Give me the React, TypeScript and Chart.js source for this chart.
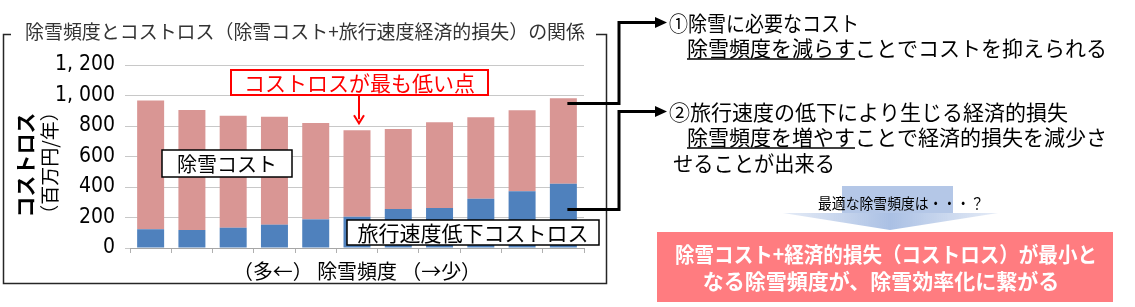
import React, { useEffect, useRef } from 'react';
import { Chart, registerables } from 'chart.js';

Chart.register(...registerables);

// ---- data ----
const categories = ['1', '2', '3', '4', '5', '6', '7', '8', '9', '10', '11'];
const travelLoss = [123, 118, 133, 153, 188, 205, 255, 262, 323, 372, 422];
const snowCost = [845, 787, 735, 708, 632, 567, 525, 562, 534, 531, 560];
const yTickValues = [0, 200, 400, 600, 800, 1000, 1200];

const seriesNames = ['旅行速度低下コストロス', '除雪コスト'];
const chartTitle = '除雪頻度とコストロス（除雪コスト+旅行速度経済的損失）の関係';
const yTitleMain = 'コストロス';
const yTitleUnit = '（百万円/年）';
const xTitle = '（多←） 除雪頻度 （→少）';
const minLabel = 'コストロスが最も低い点';
const point1Head = '①除雪に必要なコスト';
const point1Under = '除雪頻度を減らす';
const point1Rest = 'ことでコストを抑えられる';
const point2Head = '②旅行速度の低下により生じる経済的損失';
const point2Under = '除雪頻度を増やす';
const point2Rest = 'ことで経済的損失を減少さ';
const point2Tail = 'せることが出来る';
const question = '最適な除雪頻度は・・・？';
const conclusion1 = '除雪コスト+経済的損失（コストロス）が最小と';
const conclusion2 = 'なる除雪頻度が、除雪効率化に繋がる';

const JP = '"Noto Sans CJK JP", "Noto Sans", sans-serif';

function labelBox(ctx: CanvasRenderingContext2D, text: string, x: number, y: number, w: number, h: number,
  color: string, lw: number, size: number) {
  ctx.fillStyle = '#FFFFFF';
  ctx.fillRect(x, y, w, h);
  ctx.strokeStyle = color;
  ctx.lineWidth = lw;
  ctx.strokeRect(x, y, w, h);
  ctx.fillStyle = color;
  ctx.font = `${size}px ${JP}`;
  ctx.textAlign = 'center';
  ctx.textBaseline = 'middle';
  ctx.fillText(text, x + w / 2, y + h / 2 + 1, w - 8);
}

function rightArrow(ctx: CanvasRenderingContext2D, pts: number[][], tipX: number) {
  ctx.strokeStyle = '#000';
  ctx.lineWidth = 3;
  ctx.lineJoin = 'miter';
  ctx.beginPath();
  ctx.moveTo(pts[0][0], pts[0][1]);
  for (let i = 1; i < pts.length; i++) ctx.lineTo(pts[i][0], pts[i][1]);
  ctx.stroke();
  const last = pts[pts.length - 1];
  ctx.fillStyle = '#000';
  ctx.beginPath();
  ctx.moveTo(tipX, last[1]);
  ctx.lineTo(tipX - 12, last[1] - 5.5);
  ctx.lineTo(tipX - 12, last[1] + 5.5);
  ctx.closePath();
  ctx.fill();
}

const overlayPlugin = {
  id: 'overlay',
  afterDraw(chart: any) {
    const ctx: CanvasRenderingContext2D = chart.ctx;
    const xs = chart.scales.x;
    const ys = chart.scales.y;
    const totals = travelLoss.map((v, i) => v + snowCost[i]);
    ctx.save();

    // frame around chart
    ctx.strokeStyle = '#262626';
    ctx.lineWidth = 1.5;
    ctx.beginPath();
    ctx.moveTo(11, 34.5);
    ctx.lineTo(3.5, 34.5);
    ctx.lineTo(3.5, 283.5);
    ctx.lineTo(606.5, 283.5);
    ctx.lineTo(606.5, 34.5);
    ctx.lineTo(596, 34.5);
    ctx.stroke();

    // title
    ctx.fillStyle = '#333';
    ctx.font = `19px ${JP}`;
    ctx.textAlign = 'left';
    ctx.textBaseline = 'middle';
    ctx.fillText(chartTitle, 25, 32, 560);

    // y titles
    ctx.fillStyle = '#000';
    ctx.save();
    ctx.translate(25, 165);
    ctx.rotate(-Math.PI / 2);
    ctx.textAlign = 'center';
    ctx.font = `bold 21px ${JP}`;
    ctx.fillText(yTitleMain, 0, 0);
    ctx.restore();
    ctx.save();
    ctx.translate(50, 163);
    ctx.rotate(-Math.PI / 2);
    ctx.textAlign = 'center';
    ctx.font = `19px ${JP}`;
    ctx.fillText(yTitleUnit, 0, 0);
    ctx.restore();

    // x title
    ctx.font = `20px ${JP}`;
    ctx.textAlign = 'center';
    ctx.fillText(xTitle, (xs.left + xs.right) / 2, 271, 248);

    // in-chart labels
    labelBox(ctx, seriesNames[1], 162, 150, 130, 27, '#000', 1.5, 20);
    labelBox(ctx, seriesNames[0], 347, 220, 252, 25, '#000', 1.5, 21);

    // minimum marker
    let minIdx = 0;
    totals.forEach((t, i) => { if (t < totals[minIdx]) minIdx = i; });
    const mx = xs.getPixelForValue(minIdx) + 2;
    labelBox(ctx, minLabel, mx - 128, 70, 257, 25, '#FF0000', 2, 21);
    const tipY = ys.getPixelForValue(totals[minIdx]) - 7;
    ctx.strokeStyle = '#FF0000';
    ctx.lineWidth = 2;
    ctx.beginPath();
    ctx.moveTo(mx, 96);
    ctx.lineTo(mx, tipY - 4);
    ctx.stroke();
    ctx.beginPath();
    ctx.moveTo(mx - 5, tipY - 8);
    ctx.lineTo(mx, tipY);
    ctx.lineTo(mx + 5, tipY - 8);
    ctx.stroke();

    // connectors from last bar
    const last = categories.length - 1;
    const lx = xs.getPixelForValue(last) + 4;
    const yPink = Math.round(ys.getPixelForValue(totals[last] - 30)) + 0.5;
    const yBlue = Math.round(ys.getPixelForValue(travelLoss[last] * 0.6)) + 0.5;
    rightArrow(ctx, [[lx, yPink], [619, yPink], [619, 22.5], [656, 22.5]], 667);
    rightArrow(ctx, [[lx, yBlue], [619, yBlue], [619, 111.5], [656, 111.5]], 667);

    // right-hand text
    ctx.fillStyle = '#000';
    ctx.textAlign = 'left';
    ctx.font = `21px ${JP}`;
    ctx.fillText(point1Head, 669, 23, 190);
    const drawUnder = (u: string, rest: string, x: number, y: number) => {
      const w = ctx.measureText(u).width;
      ctx.fillText(u, x, y);
      ctx.fillText(rest, x + w, y);
      ctx.strokeStyle = '#000';
      ctx.lineWidth = 1.5;
      ctx.beginPath();
      ctx.moveTo(x, y + 11);
      ctx.lineTo(x + w, y + 11);
      ctx.stroke();
    };
    drawUnder(point1Under, point1Rest, 687, 48);
    ctx.fillText(point2Head, 669, 112, 410);
    drawUnder(point2Under, point2Rest, 687, 137);
    ctx.fillText(point2Tail, 673, 163, 162);

    // light blue down arrow
    ctx.fillStyle = 'rgba(180,199,231,1)';
    ctx.fillRect(842, 186, 111, 27);
    const g = ctx.createLinearGradient(783, 0, 998, 0);
    g.addColorStop(0, 'rgba(180,199,231,0.35)');
    g.addColorStop(0.5, 'rgba(170,192,228,1)');
    g.addColorStop(1, 'rgba(180,199,231,0.35)');
    ctx.fillStyle = g;
    ctx.beginPath();
    ctx.moveTo(783, 213);
    ctx.lineTo(998, 213);
    ctx.lineTo(890, 230);
    ctx.closePath();
    ctx.fill();

    ctx.fillStyle = '#000';
    ctx.font = `15px ${JP}`;
    ctx.fillText(question, 818, 203, 166);

    // conclusion box
    ctx.fillStyle = '#FF7C80';
    ctx.fillRect(657, 232, 456, 70);
    ctx.fillStyle = '#FFFFFF';
    ctx.font = `bold 21px ${JP}`;
    ctx.textAlign = 'center';
    ctx.fillText(conclusion1, 886, 254, 422);
    ctx.fillText(conclusion2, 881, 281, 374);

    ctx.restore();
  },
};

export default function App() {
  const ref = useRef<HTMLCanvasElement | null>(null);

  useEffect(() => {
    document.body.style.margin = '0';
    const canvas = ref.current;
    if (!canvas) return;
    const chart = new Chart(canvas, {
      type: 'bar',
      data: {
        labels: categories,
        datasets: [
          {
            label: seriesNames[0],
            data: travelLoss,
            backgroundColor: '#4F81BD',
            barPercentage: 0.654,
            categoryPercentage: 1,
          },
          {
            label: seriesNames[1],
            data: snowCost,
            backgroundColor: '#D99694',
            barPercentage: 0.654,
            categoryPercentage: 1,
          },
        ],
      },
      options: {
        responsive: false,
        animation: false,
        devicePixelRatio: 1,
        layout: { padding: { top: 65, right: 551, bottom: 49, left: 0 } },
        plugins: {
          legend: { display: false },
          tooltip: { enabled: false },
          title: { display: false },
        },
        scales: {
          x: {
            stacked: true,
            ticks: { display: false },
            grid: {
              offset: true,
              drawOnChartArea: false,
              drawTicks: true,
              tickLength: 5,
              color: '#B0B0B0',
            },
            border: { display: true, color: '#A6A6A6', width: 1 },
            afterFit: (s: any) => { s.height = 10; },
          },
          y: {
            stacked: true,
            min: 0,
            max: 1200,
            afterBuildTicks: (s: any) => { s.ticks = yTickValues.map((v) => ({ value: v })); },
            ticks: {
              color: '#000',
              padding: 10,
              font: { family: '"Liberation Sans Narrow", "DejaVu Sans Condensed", "Liberation Sans", sans-serif', size: 21 },
              callback: (v: any) => {
                const n = Number(v);
                return n >= 1000 ? `${Math.floor(n / 1000)}, ${String(n % 1000).padStart(3, '0')}` : String(n);
              },
            },
            grid: { color: '#C8C8C8', tickLength: 5, drawTicks: true },
            border: { display: false },
            afterFit: (s: any) => { s.width = 130; },
          },
        },
      },
      plugins: [overlayPlugin],
    });
    return () => chart.destroy();
  }, []);

  return (
    <div style={{ position: 'absolute', left: 0, top: 0, width: 1135, height: 307, background: '#fff' }}>
      <canvas ref={ref} width={1135} height={307} style={{ display: 'block', width: 1135, height: 307 }} />
    </div>
  );
}
